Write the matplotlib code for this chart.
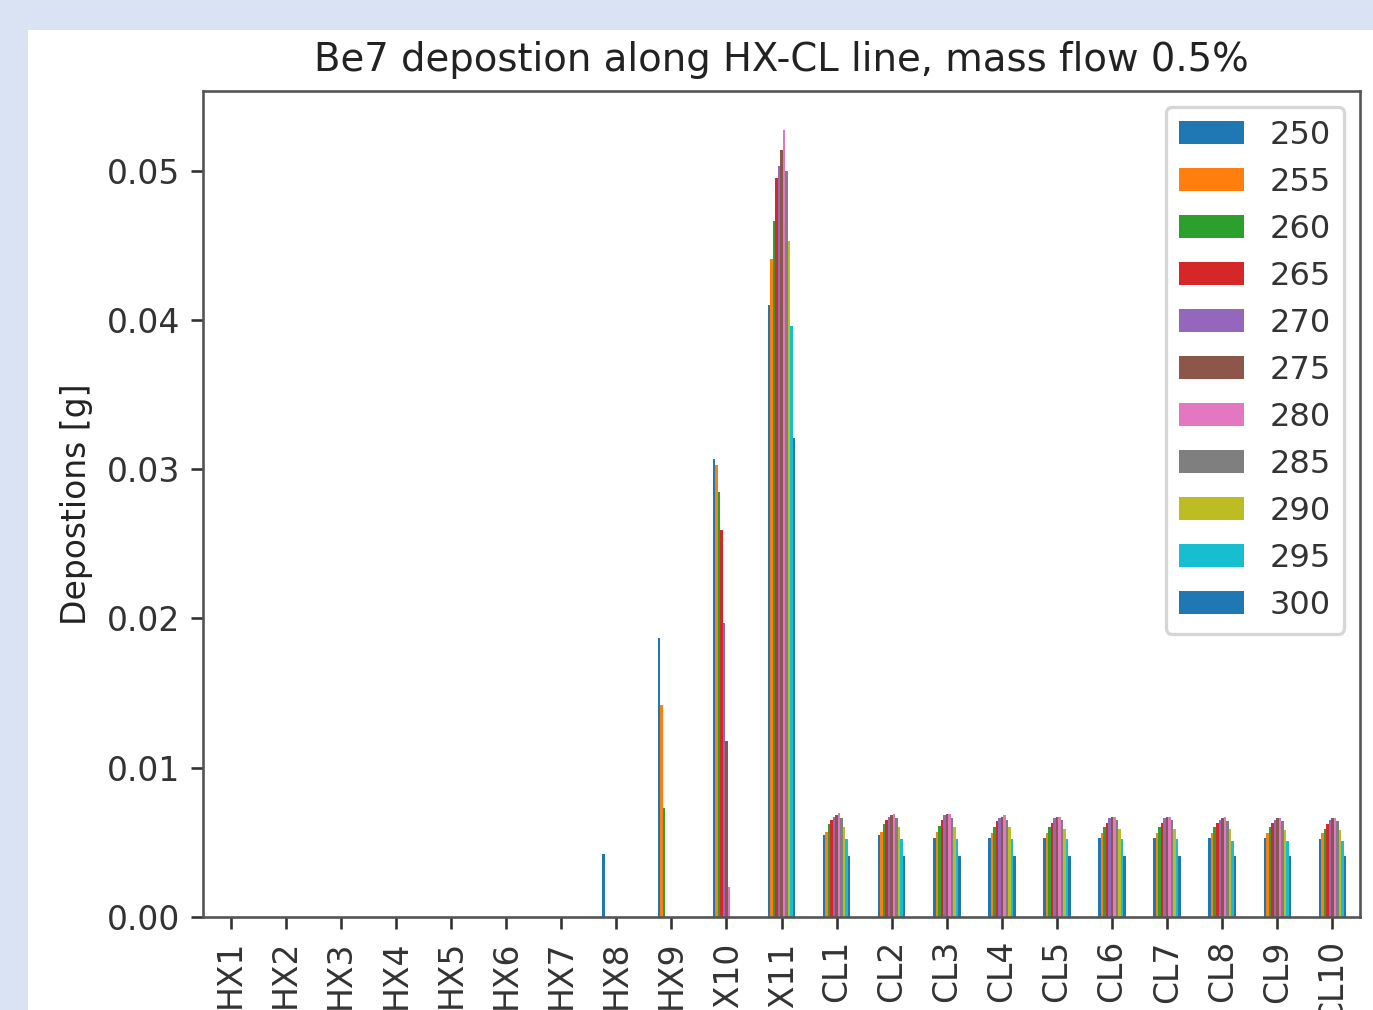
import matplotlib

matplotlib.use("Agg")
import matplotlib.pyplot as plt
import numpy as np
from matplotlib.patches import Rectangle

# scale factor: reference is a small default matplotlib figure blown up ~3.3x
S = 2.375

CATEGORIES = [
    "HX1", "HX2", "HX3", "HX4", "HX5", "HX6", "HX7", "HX8", "HX9", "HX10", "HX11",
    "CL1", "CL2", "CL3", "CL4", "CL5", "CL6", "CL7", "CL8", "CL9", "CL10",
]
SERIES = ["250", "255", "260", "265", "270", "275", "280", "285", "290", "295", "300"]

#        HX1..HX7                 HX8     HX9     HX10    HX11    CL1 ... CL10
D250 = [0, 0, 0, 0, 0, 0, 0, 0.0042, 0.0187, 0.0307, 0.0410,
        0.0055, 0.0055, 0.0053, 0.0053, 0.0053, 0.0053, 0.0053, 0.0053, 0.0053, 0.0052]
D255 = [0, 0, 0, 0, 0, 0, 0, 0, 0.0142, 0.0303, 0.0441,
        0.0057, 0.0057, 0.0057, 0.0056, 0.0056, 0.0056, 0.0056, 0.0056, 0.0056, 0.0056]
D260 = [0, 0, 0, 0, 0, 0, 0, 0, 0.0073, 0.0285, 0.0466,
        0.0062, 0.0062, 0.0061, 0.0060, 0.0060, 0.0060, 0.0060, 0.0060, 0.0060, 0.0059]
D265 = [0, 0, 0, 0, 0, 0, 0, 0, 0, 0.0259, 0.0495,
        0.0065, 0.0065, 0.0065, 0.0064, 0.0063, 0.0063, 0.0063, 0.0063, 0.0063, 0.0062]
D270 = [0, 0, 0, 0, 0, 0, 0, 0, 0, 0.0197, 0.0503,
        0.0067, 0.0067, 0.0068, 0.0066, 0.0066, 0.0066, 0.0066, 0.0065, 0.0065, 0.0065]
D275 = [0, 0, 0, 0, 0, 0, 0, 0, 0, 0.0118, 0.0514,
        0.0068, 0.0068, 0.0069, 0.0067, 0.0067, 0.0067, 0.0067, 0.0066, 0.0066, 0.0066]
D280 = [0, 0, 0, 0, 0, 0, 0, 0, 0, 0.0020, 0.0527,
        0.0070, 0.0069, 0.0069, 0.0068, 0.0067, 0.0067, 0.0067, 0.0067, 0.0066, 0.0066]
D285 = [0, 0, 0, 0, 0, 0, 0, 0, 0, 0, 0.0500,
        0.0066, 0.0066, 0.0066, 0.0065, 0.0065, 0.0065, 0.0065, 0.0064, 0.0064, 0.0064]
D290 = [0, 0, 0, 0, 0, 0, 0, 0, 0, 0, 0.0453,
        0.0060, 0.0060, 0.0060, 0.0060, 0.0059, 0.0059, 0.0059, 0.0059, 0.0058, 0.0058]
D295 = [0, 0, 0, 0, 0, 0, 0, 0, 0, 0, 0.0396,
        0.0052, 0.0052, 0.0052, 0.0052, 0.0052, 0.0052, 0.0052, 0.0051, 0.0051, 0.0051]
D300 = [0, 0, 0, 0, 0, 0, 0, 0, 0, 0, 0.0321,
        0.0041, 0.0041, 0.0041, 0.0041, 0.0041, 0.0041, 0.0041, 0.0041, 0.0041, 0.0041]

VALUES = [D250, D255, D260, D265, D270, D275, D280, D285, D290, D295, D300]

BG = "#dae3f3"
COLORS = plt.rcParams["axes.prop_cycle"].by_key()["color"]


def main():
    fig = plt.figure(figsize=(13.73, 10.10), dpi=100)
    fig.patch.set_facecolor(BG)
    fig.patches.append(
        Rectangle((28 / 1373, 0), 1, 980 / 1010, transform=fig.transFigure,
                  facecolor="white", edgecolor="none", zorder=-10)
    )
    ax = fig.add_axes([203 / 1373, 93 / 1010, 1157 / 1373, 826 / 1010])

    x = np.arange(len(CATEGORIES))
    k = len(SERIES)
    w = 0.5 / k
    for i, (lab, vals) in enumerate(zip(SERIES, VALUES)):
        ax.bar(x + (i - (k - 1) / 2) * w, vals, width=w, label=lab,
               color=COLORS[i % len(COLORS)], linewidth=0)

    ax.set_xlim(-0.5, len(CATEGORIES) - 0.5)
    ax.set_xticks(x)
    # long labels run off the bottom edge, as in the reference crop
    ax.set_xticklabels(CATEGORIES, rotation=90)
    ax.yaxis.set_major_formatter(matplotlib.ticker.FormatStrFormatter("%.2f"))
    ax.tick_params(labelsize=10 * S, length=3.5 * S, width=0.8 * S, pad=3.5 * S,
                   colors="#333333")
    for sp in ax.spines.values():
        sp.set_linewidth(0.8 * S)
        sp.set_color("#555555")

    ax.set_ylabel("Depostions [g]", fontsize=10 * S, labelpad=4 * S, color="#222222")
    ax.set_title("Be7 depostion along HX-CL line, mass flow 0.5%", fontsize=11.7 * S,
                 pad=6 * S, color="#222222")

    leg = ax.legend(loc="upper right", fontsize=9.7 * S, labelcolor="#333333",
                    labelspacing=0.5, borderaxespad=0.5, handlelength=2.05)
    leg.get_frame().set_linewidth(1.0 * S)

    fig.savefig("out.png", dpi=100, facecolor=BG)
    plt.close(fig)


if __name__ == "__main__":
    main()
